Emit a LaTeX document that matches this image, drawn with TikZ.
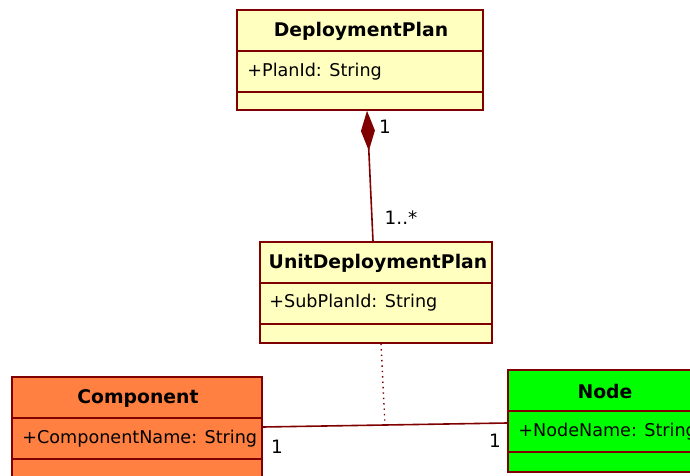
\documentclass[tikz,border=0pt]{standalone}
\usepackage{fontspec}
\setmainfont{DejaVu Sans}
\usepackage{tikz}
\usetikzlibrary{arrows.meta}
\usetikzlibrary{calc}
\usetikzlibrary{positioning}
\definecolor{uml-maroon}{HTML}{800000}
\definecolor{uml-cream}{HTML}{FFFFC0}
\definecolor{uml-orange}{HTML}{FF8040}
\definecolor{uml-green}{HTML}{00FF00}

\begin{document}
\begin{tikzpicture}[x=0.5pt, y=-0.5pt, font=\fontsize{8.8}{10.5}\selectfont]

    \useasboundingbox (0,0) rectangle (690,476);
    \clip (0,0) rectangle (690,476);

    % class boxes
    \begin{scope}[every node/.style={draw=uml-maroon, line width=0.8pt, inner sep=0pt}]
        \node[fill=uml-cream, minimum width=123pt, minimum height=50pt] (dp) at (360,60) {};
        \node[fill=uml-cream, minimum width=116pt, minimum height=50.5pt] (udp) at (376,292.5) {};
        \node[fill=uml-orange, minimum width=125pt, minimum height=62pt] (comp) at (137,439) {};
        \node[fill=uml-green, minimum width=97pt, minimum height=51pt] (node) at (605,421) {};
    \end{scope}

    % compartment lines
    \begin{scope}[uml-maroon, line width=0.8pt]
        \draw (dp.north west) ++(0,42) -- ++(248,0);
        \draw (dp.north west) ++(0,83) -- ++(248,0);
        \draw (udp.north west) ++(0,42) -- ++(234,0);
        \draw (udp.north west) ++(0,83) -- ++(234,0);
        \draw (comp.north west) ++(0,42) -- ++(252,0);
        \draw (comp.north west) ++(0,83) -- ++(252,0);
        \draw (node.north west) ++(0,42) -- ++(196,0);
        \draw (node.north west) ++(0,83) -- ++(196,0);
    \end{scope}

    % class names
    \begin{scope}[every node/.style={font=\fontsize{9.4}{11}\selectfont\bfseries}]
        \node (dpname) at (361,31) {DeploymentPlan};
        \node (udpname) at (378,263) {UnitDeploymentPlan};
        \node (compname) at (138,398) {Component};
        \node (nodename) at (605,391) {Node};
    \end{scope}

    % attributes
    \begin{scope}[every node/.style={anchor=west, inner sep=0pt}]
        \node (dpattr) at (247,72) {+PlanId: String};
        \node (udpattr) at (269,303) {+SubPlanId: String};
        \node (compattr) at (22,439) {+ComponentName: String};
        \node (nodeattr) at (518,432) {+NodeName: String};
    \end{scope}

    % composition
    \draw[uml-maroon, line width=0.8pt, {Diamond[length=20pt, width=7pt]}-]
        ($(dp.south)+(7,0)$) -- ($(udp.north)+(-3,0)$);

    % association
    \coordinate (compend) at ($(comp.east)+(0,-12)$);
    \coordinate (nodeend) at ($(node.west)+(0,2)$);
    \coordinate (assoc) at ($(compend)!0.5!(nodeend)$);
    \draw[uml-maroon, line width=0.8pt] (compend) -- (nodeend);
    \draw[uml-maroon, line width=0.7pt, dotted] ($(udp.south)+(5,0)$) -- (assoc);

    % multiplicities
    \begin{scope}[every node/.style={font=\fontsize{9.2}{11}\selectfont}]
        \node (m1) at (385,127) {1};
        \node (m2) at (401,218) {1..*};
        \node (m3) at (277,447) {1};
        \node (m4) at (495,441) {1};
    \end{scope}

\end{tikzpicture}
\end{document}
